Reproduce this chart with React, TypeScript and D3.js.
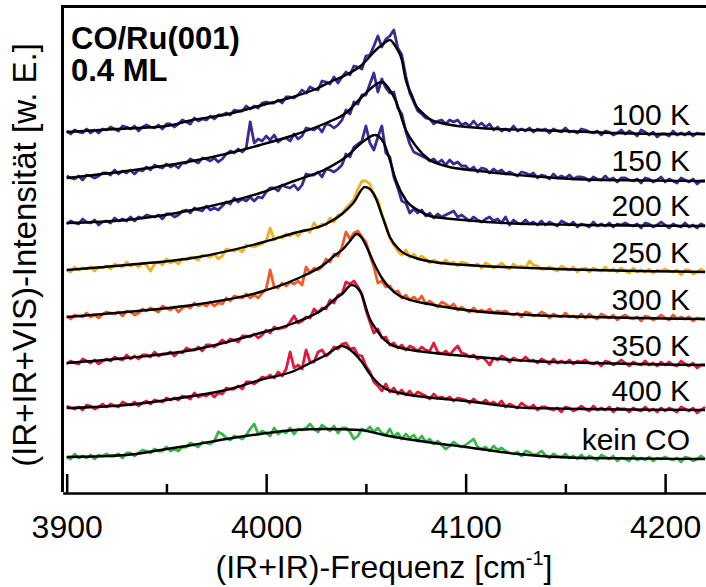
import React, { useEffect, useRef } from 'react';
import * as d3 from 'd3';

// temperature series, top to bottom
const seriesLabels = ['100 K', '150 K', '200 K', '250 K', '300 K', '350 K', '400 K', 'kein CO'];
const seriesOffsets = [36.1, 31.5, 27.0, 22.3, 17.6, 13.0, 8.5, 3.6];
const seriesColors = ['#3b2a90', '#3b2a90', '#3b2a90', '#f0b020', '#f05a28', '#e3163c', '#e3163c', '#39b54a'];

// measured spectra, one value every 2 cm^-1 from 3900 to 4220 (10 per row = 20 cm^-1)
const freqs = d3.range(3900, 4221, 2);

const raw100 = [
  0.1, -0.2, 0.2, 0.0, -0.1, 0.3, -0.1, 0.2, -0.1, 0.3,
  0.2, 0.5, 0.3, 0.1, 0.6, 0.5, 0.3, 0.6, 0.1, 0.5,
  0.7, 0.5, 0.4, 0.7, 0.3, 0.8, 0.8, 0.5, 0.8, 1.2,
  1.0, 0.8, 1.4, 1.1, 1.3, 1.2, 1.6, 1.3, 1.7, 1.7,
  1.9, 1.7, 2.2, 2.1, 2.1, 2.6, 2.3, 2.6, 2.4, 2.9,
  3.0, 2.9, 2.9, 3.2, 2.9, 3.5, 3.5, 3.4, 3.7, 4.2,
  3.9, 4.5, 4.3, 4.2, 5.1, 5.0, 4.8, 5.5, 4.9, 5.5,
  6.0, 5.7, 6.6, 6.5, 6.3, 7.6, 7.7, 8.6, 9.6, 8.5,
  9.3, 9.6, 10.2, 8.4, 7.7, 5.6, 3.9, 3.0, 2.1, 1.8,
  1.4, 1.3, 0.8, 1.1, 1.2, 0.8, 1.2, 1.0, 1.2, 0.7,
  0.9, 0.6, 1.1, 0.6, 0.9, 0.5, 0.8, 0.2, 0.5, 0.1,
  0.3, 0.1, 0.6, 0.1, 0.3, 0.1, 0.4, 0.0, 0.3, 0.2,
  0.3, -0.1, 0.3, 0.1, 0.0, 0.4, 0.0, 0.1, -0.1, 0.3,
  0.2, 0.0, -0.1, 0.1, -0.3, 0.1, 0.0, -0.3, -0.1, 0.2,
  -0.2, 0.1, -0.1, -0.4, 0.2, 0.0, -0.3, 0.0, -0.5, -0.2,
  -0.2, -0.4, 0.1, -0.3, -0.1, -0.3, 0.0, -0.4, -0.1, -0.2,
  -0.2,
];
const raw150 = [
  0.2, 0.0, -0.1, 0.2, -0.2, 0.3, 0.2, 0.0, 0.2, 0.5,
  0.5, 0.3, 0.8, 0.4, 0.7, 0.5, 0.8, 0.4, 0.8, 0.7,
  1.1, 0.8, 1.3, 1.1, 1.0, 1.4, 1.1, 1.3, 1.0, 1.5,
  1.5, 1.9, 1.7, 1.5, 2.0, 1.9, 1.7, 2.0, 1.6, 1.9,
  2.4, 2.7, 2.5, 2.9, 2.6, 3.0, 5.6, 3.5, 3.9, 3.7,
  4.2, 3.8, 4.3, 3.6, 3.9, 4.0, 3.7, 4.4, 3.9, 4.2,
  5.0, 4.9, 4.8, 5.1, 4.6, 5.4, 5.3, 5.0, 5.3, 5.8,
  6.8, 6.4, 7.6, 7.4, 8.3, 8.3, 9.4, 10.5, 8.6, 9.9,
  9.0, 8.5, 8.6, 7.0, 6.4, 4.7, 3.4, 2.6, 2.4, 2.2,
  2.0, 1.7, 1.9, 1.5, 1.8, 1.3, 1.8, 1.4, 1.6, 1.2,
  1.2, 0.8, 1.1, 0.6, 1.0, 0.9, 0.5, 0.9, 0.6, 0.8,
  0.4, 0.6, 0.4, 0.2, 0.6, 0.5, 0.3, 0.5, 0.0, 0.3,
  0.2, -0.1, 0.4, 0.0, 0.2, 0.0, 0.3, -0.1, 0.1, 0.1,
  0.0, -0.3, 0.1, -0.1, -0.2, 0.2, -0.2, 0.0, -0.4, 0.0,
  0.0, -0.2, -0.3, -0.1, -0.5, 0.0, -0.1, -0.4, -0.2, 0.1,
  -0.4, -0.1, -0.3, -0.5, 0.0, -0.2, -0.4, -0.1, -0.6, -0.3,
  -0.3,
];
const raw200 = [
  -0.1, 0.2, 0.0, -0.1, 0.4, 0.1, 0.0, 0.3, -0.2, 0.1,
  0.2, 0.0, 0.5, 0.2, 0.4, 0.2, 0.6, 0.2, 0.6, 0.5,
  0.8, 0.7, 0.6, 0.8, 0.4, 0.9, 0.9, 0.6, 0.8, 1.2,
  1.3, 1.0, 1.5, 1.3, 1.2, 1.7, 1.3, 1.5, 1.3, 1.7,
  2.1, 1.9, 2.5, 2.1, 2.4, 2.2, 2.6, 2.2, 2.6, 2.5,
  3.1, 3.5, 3.5, 3.2, 3.8, 3.6, 3.5, 3.8, 3.3, 3.8,
  4.9, 4.8, 4.8, 5.1, 4.6, 5.4, 5.3, 5.1, 5.4, 5.8,
  6.9, 6.6, 7.6, 7.9, 8.2, 9.7, 8.0, 7.3, 8.6, 9.7,
  7.0, 6.6, 4.6, 3.5, 2.2, 2.0, 1.0, 1.4, 1.0, 1.3,
  0.7, 1.0, 0.5, 0.9, 0.6, 0.8, 1.0, 1.2, 0.6, 0.8,
  0.5, 0.2, 0.6, 0.3, 0.1, 0.4, 0.6, 0.2, 0.4, 0.0,
  0.6, -0.2, 0.3, 0.0, -0.1, 0.3, -0.1, 0.1, -0.2, 0.2,
  -0.2, 0.1, -0.1, -0.3, 0.2, 0.0, -0.2, 0.1, -0.4, -0.1,
  -0.2, -0.4, 0.1, -0.3, -0.1, -0.3, 0.0, -0.4, -0.1, -0.2,
  0.0, -0.2, -0.3, -0.1, -0.5, 0.0, -0.1, -0.4, -0.2, 0.1,
  -0.2, -0.5, -0.1, -0.3, -0.4, 0.0, -0.4, -0.2, -0.5, -0.1,
  -0.3,
];
const raw250 = [
  0.0, -0.2, 0.3, 0.0, 0.2, 0.1, 0.3, -0.1, 0.3, 0.2,
  0.4, 0.1, 0.6, 0.4, 0.3, 0.8, 0.4, 0.6, 0.3, 0.7,
  0.5, -0.1, 0.6, 0.8, 0.5, 1.1, 0.7, 0.9, 0.6, 1.1,
  1.0, 1.3, 1.2, 1.0, 1.5, 1.4, 1.3, 1.6, 1.1, 1.4,
  2.1, 2.0, 1.9, 2.1, 1.8, 2.5, 2.4, 2.3, 2.5, 2.6,
  2.9, 4.2, 3.0, 3.3, 3.2, 3.6, 3.4, 3.7, 3.4, 3.9,
  4.0, 3.8, 4.7, 4.2, 4.6, 4.5, 5.2, 4.8, 5.5, 5.6,
  6.2, 6.6, 7.1, 8.1, 8.9, 8.9, 8.6, 7.4, 7.0, 5.6,
  4.5, 3.2, 2.5, 1.9, 1.5, 2.0, 1.3, 1.6, 1.1, 1.4,
  1.1, 0.7, 1.0, 0.8, 0.6, 1.0, 0.6, 0.8, 0.4, 0.8,
  0.7, 0.5, 0.4, 0.6, 0.2, 0.7, 0.5, 0.2, 0.4, 0.7,
  0.3, 0.1, 0.6, 0.3, 0.4, 0.2, 0.9, 0.5, 0.4, 0.1,
  0.1, 0.3, 0.1, -0.1, 0.4, 0.2, 0.0, 0.3, -0.2, 0.1,
  0.2, -0.2, 0.2, 0.0, -0.1, 0.3, -0.1, 0.1, -0.2, 0.2,
  -0.1, -0.3, 0.2, -0.2, 0.0, -0.2, 0.1, -0.3, 0.0, -0.1,
  0.1, -0.1, -0.2, 0.0, -0.5, 0.0, 0.0, -0.4, -0.2, 0.1,
  -0.2,
];
const raw300 = [
  0.1, -0.2, 0.2, 0.1, 0.0, 0.4, 0.0, 0.2, -0.1, 0.3,
  0.5, 0.4, 0.3, 0.5, 0.1, 0.6, 0.5, 0.2, 0.4, 0.8,
  0.6, 0.9, 0.7, 0.5, 1.1, 0.9, 0.7, 1.0, 0.5, 0.9,
  1.1, 0.9, 1.4, 1.1, 1.3, 1.1, 1.5, 1.1, 1.4, 1.3,
  1.9, 1.6, 2.1, 2.0, 1.9, 2.3, 1.9, 2.2, 1.9, 2.4,
  2.8, 4.7, 3.0, 2.9, 3.4, 3.1, 3.5, 3.3, 3.6, 3.2,
  5.0, 4.4, 4.9, 4.7, 5.0, 5.8, 5.5, 6.3, 6.1, 7.0,
  8.5, 7.8, 8.4, 8.6, 8.0, 7.5, 6.2, 5.0, 3.4, 3.6,
  3.0, 3.1, 2.5, 2.6, 1.9, 2.2, 1.7, 2.0, 1.6, 2.1,
  1.3, 1.6, 1.3, 1.0, 1.5, 1.3, 1.0, 1.3, 0.7, 1.0,
  0.7, 0.5, 0.9, 0.5, 0.7, 0.5, 0.8, 0.4, 0.6, 0.5,
  0.6, 0.3, 0.2, 0.4, 0.0, 0.5, 0.4, 0.1, 0.2, 0.5,
  0.3, -0.1, 0.3, 0.1, 0.0, 0.4, 0.0, 0.1, -0.1, 0.3,
  -0.1, 0.3, 0.0, -0.2, 0.3, 0.1, -0.1, 0.2, -0.3, 0.0,
  0.2, -0.1, -0.2, 0.0, -0.4, 0.1, 0.0, -0.3, -0.1, 0.2,
  -0.1, -0.3, 0.2, -0.2, 0.0, -0.2, 0.0, -0.4, -0.1, -0.2,
  -0.2,
];
const raw350 = [
  -0.1, 0.2, 0.0, -0.1, 0.4, 0.2, 0.0, 0.3, -0.1, 0.2,
  0.4, 0.2, 0.6, 0.4, 0.3, 0.8, 0.4, 0.7, 0.4, 0.8,
  0.8, 0.6, 1.1, 0.7, 0.9, 0.9, 1.1, 0.7, 1.1, 1.0,
  1.5, 1.3, 1.3, 1.6, 1.2, 1.8, 1.8, 1.6, 1.9, 2.3,
  2.0, 2.4, 2.3, 2.1, 2.7, 2.7, 2.6, 2.9, 2.5, 2.8,
  3.3, 3.0, 3.6, 3.4, 3.5, 3.6, 4.1, 4.7, 4.0, 4.2,
  4.6, 4.5, 5.4, 5.0, 5.5, 5.4, 6.3, 6.0, 6.8, 6.9,
  8.1, 7.9, 8.2, 7.6, 6.9, 5.3, 4.1, 3.0, 3.4, 2.5,
  2.6, 1.8, 2.0, 1.5, 1.8, 1.3, 1.7, 1.5, 1.2, 1.6,
  1.3, 1.2, 2.0, 1.1, 0.9, 1.2, 0.8, 1.3, 1.7, 1.0,
  0.9, 0.6, 0.8, 0.4, 0.6, 0.3, -0.2, 0.5, 0.3, 0.7,
  0.5, 0.1, 0.5, 0.3, 0.2, 0.6, 0.2, 0.3, 0.0, 0.4,
  0.2, -0.1, 0.4, 0.0, 0.2, 0.0, 0.3, -0.1, 0.2, 0.1,
  0.3, 0.0, -0.1, 0.1, -0.3, 0.2, 0.1, -0.2, 0.0, 0.3,
  0.0, -0.3, 0.1, -0.1, -0.2, 0.2, -0.2, 0.0, -0.3, 0.1,
  -0.2, 0.1, -0.2, -0.3, 0.2, -0.1, -0.3, 0.0, -0.5, -0.2,
  -0.2,
];
const raw400 = [
  0.2, 0.0, -0.1, 0.1, -0.2, 0.3, 0.2, -0.1, 0.1, 0.4,
  0.1, 0.4, 0.2, 0.1, 0.6, 0.4, 0.3, 0.6, 0.2, 0.5,
  0.7, 0.4, 0.8, 0.7, 0.6, 1.0, 0.8, 1.0, 0.8, 1.2,
  1.1, 0.9, 1.5, 1.1, 1.3, 1.2, 1.5, 1.1, 1.5, 1.4,
  2.0, 1.9, 1.9, 2.2, 1.9, 2.6, 2.6, 2.4, 2.7, 3.1,
  3.0, 3.3, 3.0, 3.6, 3.2, 3.9, 5.6, 4.0, 4.3, 3.9,
  5.8, 4.6, 4.6, 5.6, 5.8, 5.2, 5.5, 6.1, 5.9, 6.4,
  6.5, 5.9, 6.0, 5.3, 5.2, 4.2, 3.6, 2.6, 2.2, 1.7,
  2.4, 1.6, 2.0, 1.4, 1.8, 1.3, 1.7, 1.2, 1.6, 1.4,
  1.2, 0.9, 1.4, 1.0, 1.1, 0.9, 1.1, 0.7, 1.0, 0.9,
  0.8, 0.5, 0.9, 0.6, 0.5, 0.8, 0.4, 0.6, 0.3, 0.7,
  0.1, 0.4, 0.2, 0.0, 0.5, 0.2, 0.0, 0.3, -0.2, 0.1,
  0.1, -0.1, -0.2, 0.0, -0.4, 0.1, 0.0, -0.3, -0.1, 0.2,
  -0.1, -0.3, 0.2, -0.2, 0.0, -0.2, 0.1, -0.4, 0.0, -0.1,
  -0.1, -0.4, 0.0, -0.2, -0.3, 0.1, -0.3, -0.1, -0.4, 0.0,
  -0.3, 0.0, -0.2, -0.4, 0.1, -0.1, -0.3, 0.0, -0.5, -0.2,
  0.1,
];
const rawKein = [
  0.0, -0.2, 0.3, -0.1, 0.1, -0.1, 0.2, -0.2, 0.2, 0.1,
  0.3, 0.1, 0.1, 0.3, -0.1, 0.4, 0.4, 0.1, 0.4, 0.7,
  0.6, 0.4, 0.8, 0.6, 0.6, 1.0, 0.6, 0.8, 0.6, 1.0,
  1.0, 1.4, 1.2, 1.0, 1.5, 1.4, 1.3, 1.6, 2.5, 2.3,
  1.9, 1.7, 2.1, 2.0, 1.8, 2.2, 2.8, 3.3, 2.3, 2.6,
  2.4, 2.1, 2.9, 2.3, 2.6, 2.4, 2.9, 2.3, 2.8, 2.7,
  2.9, 3.3, 2.8, 2.5, 3.2, 2.9, 2.6, 3.1, 2.4, 2.9,
  2.9, 2.5, 1.8, 2.1, 2.8, 2.6, 3.0, 2.5, 2.9, 2.4,
  2.2, 2.8, 2.0, 2.4, 1.8, 2.3, 1.9, 2.2, 1.6, 2.1,
  1.5, 1.8, 1.3, 1.6, 1.2, 0.8, 1.1, 1.5, 1.2, 1.0,
  1.2, 1.5, 1.8, 1.0, 0.8, 1.0, 0.6, 1.1, 0.7, 0.9,
  0.6, 0.4, 0.3, 0.5, 0.1, 0.6, 0.5, 0.2, 0.3, 0.6,
  0.2, -0.1, 0.3, 0.1, 0.0, 0.3, -0.1, 0.1, -0.2, 0.2,
  -0.2, 0.1, -0.1, -0.3, 0.2, 0.0, -0.2, 0.1, -0.4, -0.1,
  -0.2, -0.4, 0.1, -0.3, -0.1, -0.3, 0.0, -0.4, -0.1, -0.2,
  0.0, -0.2, -0.3, -0.1, -0.5, 0.0, -0.1, -0.4, -0.2, 0.1,
  -0.2,
];

// fitted curves [frequency, intensity]
const fit100 = [
  [3900, 0], [3925, 0.3], [3950, 0.6], [3963, 1.2], [3980, 1.75], [4000, 2.8], [4015, 3.6],
  [4025, 4.3], [4032, 5.0], [4040, 5.7], [4048, 6.7], [4055, 8.2], [4058, 8.7], [4062, 9.2],
  [4065, 8.5], [4068, 7.2], [4070, 5.2], [4073, 3.7], [4075, 2.7], [4079, 1.8], [4082, 1.3],
  [4090, 0.8], [4107, 0.4], [4132, 0.2], [4150, 0.1], [4175, -0.1], [4200, -0.2], [4220, -0.2],
];
const fit150 = [
  [3900, 0], [3930, 0.7], [3963, 1.7], [3997, 3.3], [4014, 4.3], [4030, 5.5], [4040, 6.5],
  [4049, 8.3], [4058, 9.6], [4062, 8.8], [4065, 7.7], [4070, 4.8], [4075, 3.2], [4082, 1.8],
  [4090, 1.2], [4107, 0.7], [4132, 0.2], [4167, -0.2], [4220, -0.3],
];
const fit200 = [
  [3900, 0], [3930, 0.3], [3963, 1.3], [3997, 3.0], [4014, 4.2], [4030, 5.4], [4040, 6.6],
  [4049, 8.2], [4054.5, 8.8], [4059, 8.0], [4062, 6.3], [4065, 4.3], [4070, 2.3], [4077, 1.2],
  [4082, 0.7], [4099, 0.3], [4132, -0.1], [4220, -0.3],
];
const fit250 = [
  [3900, 0], [3930, 0.5], [3963, 1.2], [3997, 2.7], [4014, 3.7], [4030, 4.6], [4038.6, 5.7],
  [4043.7, 6.7], [4049.5, 8.3], [4053.7, 7.7], [4058.7, 5.1], [4062, 3.3], [4067, 2.0],
  [4075, 1.2], [4084, 0.8], [4100, 0.5], [4132, 0.2], [4220, -0.2],
];
const fit300 = [
  [3900, 0], [3930, 0.5], [3963, 1.2], [3997, 2.5], [4014, 3.7], [4030, 5.4], [4034, 6.1],
  [4038.6, 6.8], [4042, 7.6], [4045.4, 8.3], [4048, 7.9], [4050.4, 7.0], [4054, 5.4],
  [4058, 3.9], [4062, 2.9], [4067, 2.1], [4084, 1.2], [4100, 0.7], [4132, 0.2], [4220, -0.2],
];
const fit350 = [
  [3900, 0], [3930, 0.5], [3963, 1.3], [3997, 3.0], [4014, 4.0], [4030, 5.6], [4034, 6.3],
  [4038.6, 7.0], [4042.8, 7.8], [4047, 7.2], [4052, 4.4], [4055.4, 3.3], [4058, 2.6],
  [4064, 1.7], [4084, 1.0], [4100, 0.7], [4132, 0.2], [4220, -0.2],
];
const fit400 = [
  [3900, 0], [3930, 0.3], [3963, 1.2], [3980, 1.8], [3997, 2.8], [4014, 3.7], [4025, 4.8],
  [4030, 5.3], [4038, 6.2], [4044, 5.5], [4048, 4.6], [4052, 3.4], [4056, 2.5], [4060, 1.9],
  [4067, 1.5], [4084, 1.0], [4100, 0.7], [4132, 0.0], [4220, -0.2],
];
const fitKein = [
  [3900, 0], [3930, 0.2], [3947, 0.7], [3963, 1.2], [3980, 1.8], [3997, 2.3], [4014, 2.7],
  [4030, 2.8], [4047, 2.7], [4059, 2.2], [4084, 1.4], [4100, 1.0], [4126, 0.3], [4159, -0.1],
  [4220, -0.2],
];

const rawSeries = [raw100, raw150, raw200, raw250, raw300, raw350, raw400, rawKein];
const fitSeries = [fit100, fit150, fit200, fit250, fit300, fit350, fit400, fitKein];

const majorTicks = [3900, 4000, 4100, 4200];
const minorTicks = [3950, 4050, 4150];

const FONT = '"Liberation Sans", Arial, Helvetica, sans-serif';

export default function App() {
  const svgRef = useRef<SVGSVGElement>(null);

  useEffect(() => {
    if (!svgRef.current) return;
    const svg = d3.select(svgRef.current);
    svg.selectAll('*').remove();

    const x = d3.scaleLinear().domain([3898, 4220.5]).range([62.7, 706]);
    const y = d3.scaleLinear().domain([0, 48.7]).range([493, 6]);

    const rawLine = d3.line<number>()
      .x((_, i) => x(freqs[i]))
      .y(d => d);
    const fitLine = d3.line<number[]>()
      .x(d => x(d[0]))
      .y(d => d[1])
      .curve(d3.curveMonotoneX);

    // measured spectra
    const gRaw = svg.append('g');
    rawSeries.forEach((vals, k) => {
      gRaw.append('path')
        .attr('d', rawLine(vals.map(v => y(v + seriesOffsets[k]))))
        .attr('fill', 'none')
        .attr('stroke', seriesColors[k])
        .attr('stroke-width', 2.8)
        .attr('stroke-linejoin', 'round');
    });

    // fits on top
    const gFit = svg.append('g');
    fitSeries.forEach((pts, k) => {
      gFit.append('path')
        .attr('d', fitLine(pts.map(p => [p[0], y(p[1] + seriesOffsets[k])])))
        .attr('fill', 'none')
        .attr('stroke', '#000')
        .attr('stroke-width', 2.4);
    });

    // series labels
    svg.append('g')
      .selectAll('text')
      .data(seriesLabels)
      .join('text')
      .attr('x', 690)
      .attr('y', (_, k) => y(seriesOffsets[k]) - 7)
      .attr('text-anchor', 'end')
      .style('font-family', FONT)
      .style('font-size', '30px')
      .text(d => d);

    // frame: top line and left axis
    svg.append('line')
      .attr('x1', 61).attr('x2', 706).attr('y1', 6.5).attr('y2', 6.5)
      .attr('stroke', '#000').attr('stroke-width', 3);
    svg.append('line')
      .attr('x1', 62.5).attr('x2', 62.5).attr('y1', 5).attr('y2', 492)
      .attr('stroke', '#000').attr('stroke-width', 3);

    // bottom axis, ticks pointing inward
    const gx = svg.append('g').attr('transform', `translate(0,${y(0)})`);
    gx.call(d3.axisBottom(x).tickValues(majorTicks).tickSize(-19).tickSizeOuter(0).tickFormat(d3.format('d')));
    gx.select('.domain').attr('stroke-width', 2.5);
    gx.selectAll('.tick line').attr('stroke-width', 2.5);
    gx.selectAll('.tick text')
      .attr('y', 45)
      .attr('dy', 0)
      .attr('fill', '#000')
      .style('font-family', FONT)
      .style('font-size', '32px');
    const gm = svg.append('g').attr('transform', `translate(0,${y(0)})`);
    gm.call(d3.axisBottom(x).tickValues(minorTicks).tickSize(-9).tickSizeOuter(0).tickFormat(() => ''));
    gm.select('.domain').remove();
    gm.selectAll('.tick line').attr('stroke-width', 2.5);

    // axis titles
    const xt = svg.append('text')
      .attr('x', 384)
      .attr('y', 578)
      .attr('text-anchor', 'middle')
      .style('font-family', FONT)
      .style('font-size', '32px');
    xt.append('tspan').text('(IR+IR)-Frequenz [cm');
    xt.append('tspan').attr('dy', -13).style('font-size', '20px').text('-1');
    xt.append('tspan').attr('dy', 13).text(']');

    svg.append('text')
      .attr('transform', 'translate(36,255) rotate(-90)')
      .attr('text-anchor', 'middle')
      .style('font-family', FONT)
      .style('font-size', '33px')
      .text('(IR+IR+VIS)-Intensität [w. E.]');

    // sample annotation
    const ann = svg.append('g')
      .style('font-family', FONT)
      .style('font-size', '31px')
      .style('font-weight', 'bold');
    ann.append('text').attr('x', 71).attr('y', 49).text('CO/Ru(001)');
    ann.append('text').attr('x', 71).attr('y', 81).text('0.4 ML');
  }, []);

  return (
    <svg
      ref={svgRef}
      width={706}
      height={587}
      style={{ position: 'absolute', left: 0, top: 0, background: '#fff' }}
    />
  );
}
